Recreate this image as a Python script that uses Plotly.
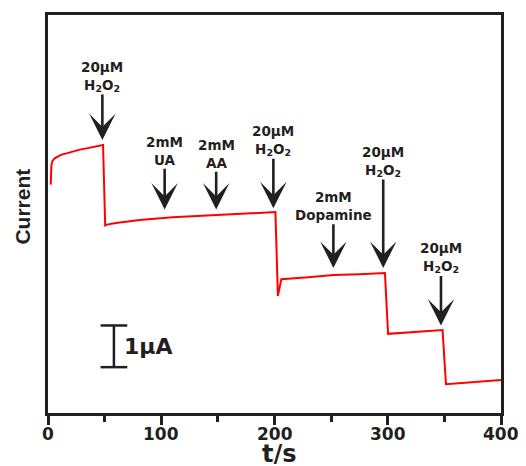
import plotly.graph_objects as go

# Amperometric response data (time in s, current in µA, arbitrary offset)
time_s = [2.4, 2.6, 3.0, 4.0, 5.9, 9.0, 12.0, 16.3, 22.0, 28.1, 34.0, 39.9, 44.0, 48.6,
          50.5, 52.0, 60.0, 81.0, 110.0, 146.0, 170.0, 200.8,
          203.0, 206.0, 230.0, 252.0, 275.0, 297.5,
          300.3, 320.0, 335.0, 348.4,
          351.4, 360.0, 380.0, 400.0]
current_uA = [5.48, 5.75, 5.95, 6.05, 6.11, 6.16, 6.20, 6.23, 6.28, 6.32, 6.35, 6.38, 6.40, 6.43,
              4.50, 4.52, 4.56, 4.63, 4.70, 4.75, 4.78, 4.82,
              2.81, 3.21, 3.26, 3.31, 3.33, 3.36,
              1.90, 1.94, 1.97, 1.99,
              0.69, 0.71, 0.75, 0.79]

# Injection events
event_time = [48, 103, 148.5, 199, 252, 296, 347]
event_tip = [6.55, 4.88, 4.88, 4.91, 3.48, 3.48, 2.10]
event_tail = [7.64, 5.86, 5.79, 6.10, 4.53, 5.60, 3.29]
h2o2 = "20µM<br>H<sub>2</sub>O<sub>2</sub>"
event_label = [h2o2, "2mM<br>UA", "2mM<br>AA", h2o2, "2mM<br>Dopamine", h2o2, h2o2]

x_ticks = [0, 100, 200, 300, 400]
x_tick_labels = ["0", "100", "200", "300", "400"]
scale_bar_uA = 1.0
scale_bar_t = 58.2
scale_bar_bottom = 1.10

FONT = "DejaVu Sans, Verdana, sans-serif"
FONT_Y = "Liberation Sans, Arial, sans-serif"
INK = "#231f20"

fig = go.Figure()
fig.add_trace(go.Scatter(x=time_s, y=current_uA, mode="lines",
                         line=dict(color="#ff0000", width=2), showlegend=False,
                         hoverinfo="skip"))

annotations = []
for t, tip, tail, lab in zip(event_time, event_tip, event_tail, event_label):
    annotations.append(dict(x=t, y=tip, ax=t, ay=tail, axref="x", ayref="y",
                            xref="x", yref="y", text=lab, showarrow=True,
                            xanchor="center", yanchor="bottom",
                            arrowhead=3, arrowsize=1.7, arrowwidth=2.6,
                            arrowcolor=INK, borderpad=0,
                            font=dict(family=FONT, size=13.5, color=INK, weight="bold")))

# x tick labels
for tv, tl in zip(x_ticks, x_tick_labels):
    annotations.append(dict(x=tv, y=-0.052, xref="x", yref="paper", text=tl,
                            showarrow=False, xanchor="center", yanchor="middle",
                            borderpad=0, height=16, valign="middle",
                            font=dict(family=FONT, size=17, color=INK, weight="bold")))

# scale bar label
annotations.append(dict(x=scale_bar_t + 7.0, y=scale_bar_bottom + scale_bar_uA / 2,
                        xref="x", yref="y", text="1µA", showarrow=False,
                        xanchor="left", yanchor="middle",
                        font=dict(family=FONT, size=22, color=INK, weight="bold")))
# axis titles
annotations.append(dict(x=0.51, y=-0.104, xref="paper", yref="paper", text="t/s",
                        showarrow=False, xanchor="center", yanchor="middle",
                        borderpad=0, height=20, valign="middle",
                        font=dict(family=FONT, size=24, color=INK, weight="bold")))
annotations.append(dict(x=-0.057, y=0.519, xref="paper", yref="paper", text="Current",
                        showarrow=False, textangle=-90, xanchor="center", yanchor="middle",
                        font=dict(family=FONT_Y, size=21, color=INK, weight="bold")))

shapes = [
    dict(type="line", xref="x", yref="y", x0=scale_bar_t, x1=scale_bar_t,
         y0=scale_bar_bottom, y1=scale_bar_bottom + scale_bar_uA,
         line=dict(color=INK, width=2.5)),
    dict(type="line", xref="x", yref="y", x0=scale_bar_t - 11.8, x1=scale_bar_t + 11.8,
         y0=scale_bar_bottom, y1=scale_bar_bottom, line=dict(color=INK, width=2.5)),
    dict(type="line", xref="x", yref="y", x0=scale_bar_t - 11.8, x1=scale_bar_t + 11.8,
         y0=scale_bar_bottom + scale_bar_uA, y1=scale_bar_bottom + scale_bar_uA,
         line=dict(color=INK, width=2.5)),
]

fig.update_layout(
    width=526, height=466,
    margin=dict(l=48, r=25, t=12, b=53),
    paper_bgcolor="white", plot_bgcolor="white",
    showlegend=False, hovermode=False,
    annotations=annotations, shapes=shapes,
    xaxis=dict(range=[0, 400], tickvals=x_ticks, showticklabels=False,
               ticks="outside", ticklen=9,
               tickwidth=2.5, tickcolor=INK, showline=True, mirror=True,
               linecolor=INK, linewidth=2.5, showgrid=False, zeroline=False,
               minor=dict(dtick=50, tick0=0, ticks="outside", ticklen=6,
                          tickwidth=2.5, tickcolor=INK, showgrid=False)),
    yaxis=dict(range=[0, 9.55], showticklabels=False, ticks="", showline=True,
               mirror=True, linecolor=INK, linewidth=2.5, showgrid=False,
               zeroline=False),
)

fig.write_html("out.html", config={"displayModeBar": False},
               post_script="document.body.style.margin='0';document.body.style.padding='0';")
